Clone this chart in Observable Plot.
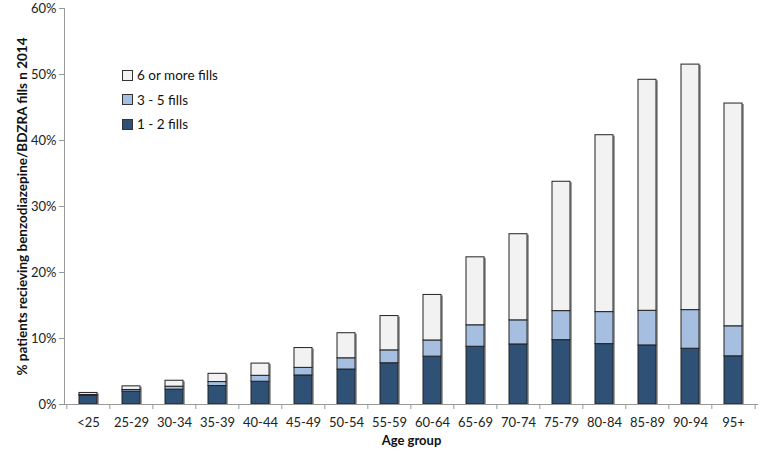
<!DOCTYPE html>
<html>
<head>
<meta charset="utf-8">
<script src="https://cdn.jsdelivr.net/npm/d3@7"></script>
<script src="https://cdn.jsdelivr.net/npm/@observablehq/plot@0.6"></script>
<style>
  body { margin: 0; background: #fff; }
  #wrap { position: relative; width: 760px; height: 451px; font-family: Lato, "Open Sans", sans-serif; }
  #wrap svg { font-family: Lato, "Open Sans", sans-serif; }
  g[aria-label="y-axis label"] text { font-weight: bold; font-size: 13.5px; fill: #111; }
  g[aria-label="x-axis label"] text { font-weight: bold; font-size: 13px; fill: #111; }
  #legend { position: absolute; left: 122px; top: 63px; font-size: 13.5px; color: #111; }
  #legend .row { display: flex; align-items: center; height: 24.5px; }
  #legend .sw { width: 9px; height: 9px; border: 1px solid #333; margin-right: 4px; box-sizing: content-box; }
</style>
</head>
<body>
<div id="wrap"><div id="legend"></div></div>
<script>
const categories = ["<25","25-29","30-34","35-39","40-44","45-49","50-54","55-59","60-64","65-69","70-74","75-79","80-84","85-89","90-94","95+"];
const seriesNames = ["1 - 2 fills", "3 - 5 fills", "6 or more fills"];
const fills1to2 = [1.3, 1.95, 2.25, 2.8, 3.45, 4.4, 5.3, 6.25, 7.25, 8.75, 9.1, 9.75, 9.15, 8.95, 8.45, 7.3];
const fills3to5 = [0.15, 0.25, 0.45, 0.6, 0.9, 1.15, 1.7, 1.95, 2.45, 3.25, 3.65, 4.4, 4.85, 5.25, 5.85, 4.55];
const fills6plus = [0.3, 0.55, 0.9, 1.25, 1.85, 3.0, 3.8, 5.2, 6.9, 10.3, 13.05, 19.6, 26.8, 35.0, 37.2, 33.75];
const yTicks = [0, 10, 20, 30, 40, 50, 60];
const colors = ["#2f5175", "#a6bfe1", "#f2f2f2"];

const series = [fills1to2, fills3to5, fills6plus];
const rows = [];
categories.forEach((c, i) => series.forEach((s, k) => rows.push({age: c, series: seriesNames[k], value: s[i]})));
const totals = categories.map((c, i) => ({age: c, value: fills1to2[i] + fills3to5[i] + fills6plus[i]}));

const W = 760, H = 451, ml = 64, mr = 2, mt = 8, mb = 47;
const step = (W - ml - mr) / categories.length;

const chart = Plot.plot({
  width: W, height: H,
  marginLeft: ml, marginRight: mr, marginTop: mt, marginBottom: mb,
  style: {fontSize: "13px", color: "#222", background: "#fff"},
  x: {type: "band", domain: categories, paddingInner: 0.57, paddingOuter: 0.285, align: 0.5},
  y: {domain: [0, 60], ticks: yTicks},
  color: {domain: seriesNames, range: colors},
  marks: [
    Plot.barY(totals, {x: "age", y: "value", fill: "#a0a0a0", dx: 2, dy: 1}),
    Plot.barY(rows, {x: "age", y: "value", fill: "series", stroke: "#222", strokeWidth: 1, order: seriesNames}),
    Plot.frame({anchor: "left", stroke: "#999"}),
    Plot.ruleY([0], {stroke: "#999"}),
    Plot.axisY({ticks: yTicks, tickSize: 5, tickPadding: 3, stroke: "#999", tickFormat: d => d + "%",
      label: "% patients recieving benzodiazepine/BDZRA fills n 2014", labelAnchor: "center", labelArrow: "none", labelOffset: 47}),
    Plot.axisX({tickSize: 0, tickPadding: 13, label: "Age group", labelAnchor: "center", labelArrow: "none", labelOffset: 40}),
    Plot.axisX({tickSize: 5, stroke: "#999", tickFormat: () => "", dx: -step / 2, label: null}),
    Plot.axisX([categories[categories.length - 1]], {tickSize: 5, stroke: "#999", tickFormat: () => "", dx: step / 2, label: null})
  ]
});
document.getElementById("wrap").prepend(chart);

const legend = document.getElementById("legend");
[2, 1, 0].forEach(k => {
  const row = document.createElement("div");
  row.className = "row";
  const sw = document.createElement("span");
  sw.className = "sw";
  sw.style.background = colors[k];
  const t = document.createElement("span");
  t.textContent = seriesNames[k];
  row.append(sw, t);
  legend.append(row);
});
</script>
</body>
</html>
